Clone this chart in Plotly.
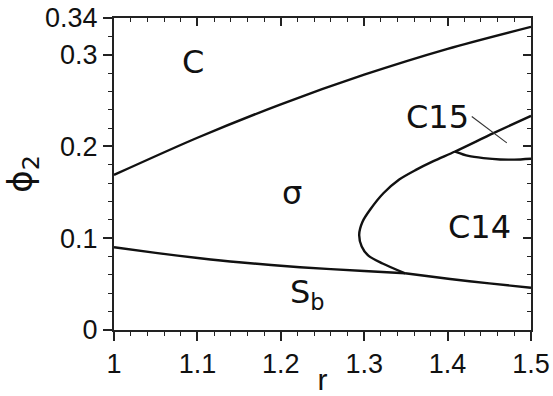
import plotly.graph_objects as go

# Phase boundaries in the (r, phi2) plane
r_c_sigma = [1.0, 1.1, 1.2, 1.3, 1.4, 1.5]
phi_c_sigma = [0.169, 0.2095, 0.2459, 0.2782, 0.3064, 0.3304]

r_sigma_sb = [1.0, 1.05, 1.103, 1.15, 1.223, 1.3, 1.349]
phi_sigma_sb = [0.0902, 0.0840, 0.0782, 0.0738, 0.0684, 0.0643, 0.0618]

r_c14_sb = [1.349, 1.403, 1.45, 1.5]
phi_c14_sb = [0.0618, 0.0556, 0.0508, 0.0460]

r_sigma_c14 = [1.349, 1.322, 1.305, 1.297, 1.294, 1.298, 1.307, 1.323,
               1.342, 1.362, 1.383, 1.409, 1.455, 1.5]
phi_sigma_c14 = [0.0618, 0.0725, 0.0810, 0.0910, 0.1040, 0.1180, 0.1310, 0.1490,
                 0.1640, 0.1745, 0.1840, 0.1945, 0.2145, 0.2334]

r_c15_c14 = [1.409, 1.425, 1.443, 1.463, 1.48, 1.5]
phi_c15_c14 = [0.1945, 0.1897, 0.1873, 0.1858, 0.1857, 0.1867]

# Leader line from the C15 label to its thin region
leader_r = [1.429, 1.471]
leader_phi = [0.2326, 0.2039]

# Region labels
label_text = ["C", "σ", "C15", "C14", "S<sub>b</sub>"]
label_r = [1.095, 1.213, 1.388, 1.438, 1.232]
label_phi = [0.292, 0.1495, 0.232, 0.112, 0.039]

x_ticks = [1.0, 1.1, 1.2, 1.3, 1.4, 1.5]
x_ticktext = ["1", "1.1", "1.2", "1.3", "1.4", "1.5"]
y_ticks = [0.0, 0.1, 0.2, 0.3, 0.34]
y_ticktext = ["0", "0.1", "0.2", "0.3", "0.34"]

LINE = dict(color="#111111", width=2.4)
TICK_FONT = dict(family="Liberation Sans, Arial, sans-serif", size=27, color="#111111")
LABEL_FONT = dict(family="DejaVu Sans, sans-serif", size=32, color="#111111")

fig = go.Figure()
for xs, ys in [(r_c_sigma, phi_c_sigma), (r_sigma_sb, phi_sigma_sb),
               (r_c14_sb, phi_c14_sb), (r_sigma_c14, phi_sigma_c14),
               (r_c15_c14, phi_c15_c14)]:
    fig.add_trace(go.Scatter(x=xs, y=ys, mode="lines",
                             line=dict(shape="spline", smoothing=0.8, **LINE),
                             hoverinfo="skip"))

fig.add_trace(go.Scatter(x=leader_r, y=leader_phi, mode="lines",
                         line=dict(color="#333333", width=1.1), hoverinfo="skip"))

# invisible trace that anchors the mirrored top/right axes
fig.add_trace(go.Scatter(x=[1.0, 1.5], y=[0.0, 0.34], xaxis="x2", yaxis="y2",
                         mode="markers", marker=dict(opacity=0), hoverinfo="skip"))

for t, xr, yr in zip(label_text, label_r, label_phi):
    fig.add_annotation(x=xr, y=yr, text=t, showarrow=False, font=LABEL_FONT,
                       xanchor="center", yanchor="middle")

axis_common = dict(showgrid=False, zeroline=False, showline=True, automargin=False,
                   linecolor="#222222", linewidth=2)

fig.update_layout(
    width=553, height=396,
    margin=dict(l=114, r=22, t=18, b=66),
    plot_bgcolor="white", paper_bgcolor="white",
    showlegend=False,
    xaxis=dict(range=[1.0, 1.5], tickmode="array", tickvals=x_ticks, ticktext=x_ticktext,
               ticks="outside", ticklen=9, tickwidth=1.6, tickcolor="#222222",
               minor=dict(tick0=1.0, dtick=0.02, ticks="outside", ticklen=4,
                          tickwidth=1.2, tickcolor="#222222"),
               tickfont=TICK_FONT,
               title=dict(text="r", font=dict(family="Liberation Sans, Arial, sans-serif",
                                                size=30, color="#111111"), standoff=0),
               **axis_common),
    yaxis=dict(range=[0.0, 0.34], tickmode="array", tickvals=y_ticks, ticktext=y_ticktext,
               ticks="outside", ticklen=9, tickwidth=1.6, tickcolor="#222222",
               minor=dict(tick0=0.0, dtick=0.02, ticks="outside", ticklen=4,
                          tickwidth=1.2, tickcolor="#222222"),
               tickfont=TICK_FONT,
               title=dict(text="ϕ<sub>2</sub>", font=dict(family="DejaVu Sans, sans-serif",
                                                         size=34, color="#111111"), standoff=4),
               **axis_common),
    xaxis2=dict(range=[1.0, 1.5], overlaying="x", side="top", anchor="y2",
                tickmode="array", tickvals=x_ticks, showticklabels=False,
                ticks="inside", ticklen=8, tickwidth=1.6, tickcolor="#222222",
                minor=dict(tick0=1.0, dtick=0.02, ticks="inside", ticklen=4,
                           tickwidth=1.2, tickcolor="#222222"),
                **axis_common),
    yaxis2=dict(range=[0.0, 0.34], overlaying="y", side="right", anchor="x2",
                tickmode="array", tickvals=[0.0, 0.1, 0.2, 0.3], showticklabels=False,
                ticks="inside", ticklen=8, tickwidth=1.6, tickcolor="#222222",
                minor=dict(tick0=0.0, dtick=0.02, ticks="inside", ticklen=4,
                           tickwidth=1.2, tickcolor="#222222"),
                **axis_common),
)

fig.write_html("out.html")
